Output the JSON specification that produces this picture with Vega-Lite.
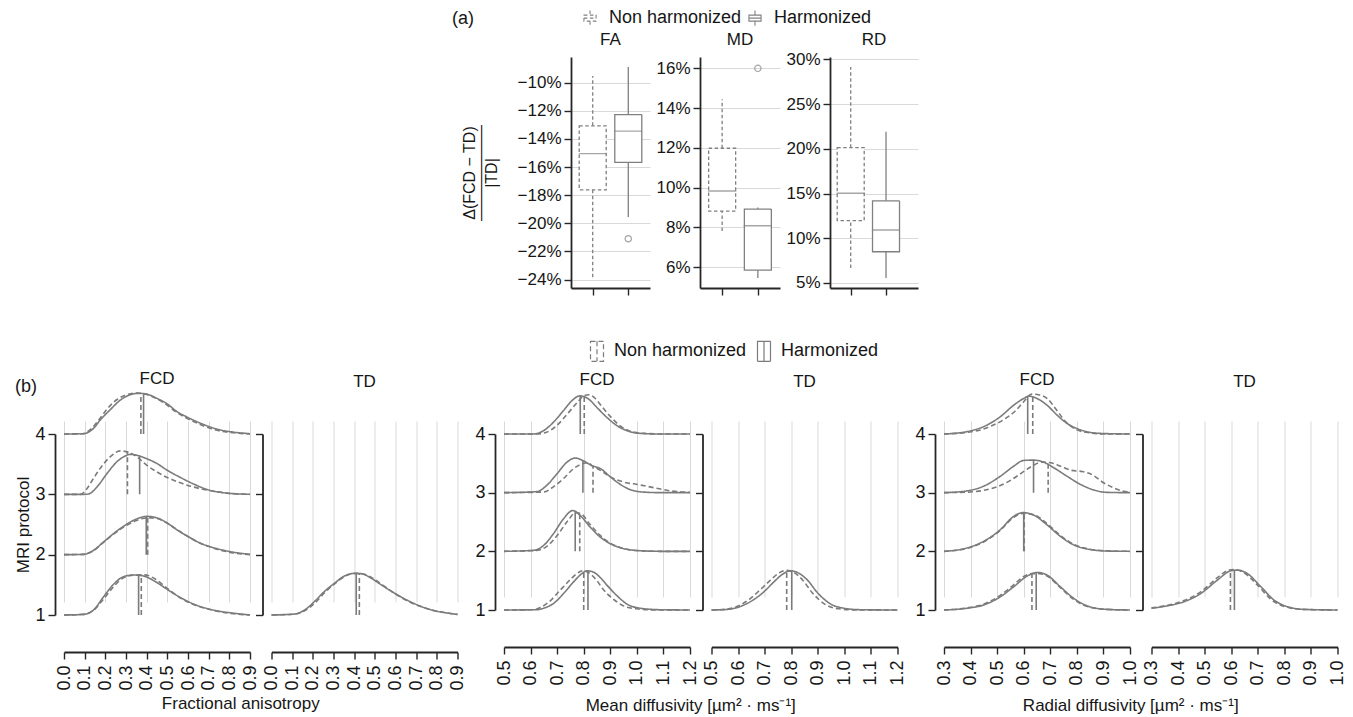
{
  "$schema": "https://vega.github.io/schema/vega-lite/v6.json",
  "padding": {"left": 14, "top": 9, "right": 5, "bottom": 2},
  "config": {
    "font": "Liberation Sans",
    "view": {"stroke": null},
    "axis": {
      "labelFont": "Liberation Sans",
      "titleFont": "Liberation Sans",
      "labelColor": "#161616",
      "titleColor": "#161616",
      "titleFontWeight": "normal",
      "domainColor": "#262626",
      "tickColor": "#262626",
      "domainWidth": 1.8,
      "tickWidth": 1.4,
      "gridColor": "#d9d9d9",
      "gridWidth": 1,
      "labelOverlap": false,
      "tickCount": 20
    },
    "title": {"font": "Liberation Sans", "fontWeight": "normal", "fontSize": 17, "color": "#161616"},
    "legend": {"labelFont": "Liberation Sans", "labelColor": "#161616"}
  },
  "datasets": {
    "box": [
      {"metric": "FA", "g": "N", "lo": -0.2384, "q1": -0.1763, "med": -0.1505, "q3": -0.1307, "hi": -0.0953},
      {"metric": "FA", "g": "H", "lo": -0.1956, "q1": -0.1567, "med": -0.1345, "q3": -0.1227, "hi": -0.0889},
      {"metric": "MD", "g": "N", "lo": 0.0782, "q1": 0.0882, "med": 0.0983, "q3": 0.1198, "hi": 0.1445},
      {"metric": "MD", "g": "H", "lo": 0.0545, "q1": 0.0585, "med": 0.0808, "q3": 0.0892, "hi": 0.0900},
      {"metric": "RD", "g": "N", "lo": 0.0667, "q1": 0.1198, "med": 0.1503, "q3": 0.2012, "hi": 0.2915},
      {"metric": "RD", "g": "H", "lo": 0.0556, "q1": 0.0849, "med": 0.1092, "q3": 0.1418, "hi": 0.2190}
    ],
    "outliers": [
      {"metric": "FA", "g": "H", "v": -0.211},
      {"metric": "MD", "g": "H", "v": 0.160}
    ],
    "faFCD": [
      {"g":"N","r":4,"x":0,"y":4},{"g":"N","r":4,"x":0.09,"y":4.005},{"g":"N","r":4,"x":0.13,"y":4.08},{"g":"N","r":4,"x":0.17,"y":4.24},{"g":"N","r":4,"x":0.21,"y":4.42},{"g":"N","r":4,"x":0.26,"y":4.58},{"g":"N","r":4,"x":0.31,"y":4.66},{"g":"N","r":4,"x":0.35,"y":4.68},{"g":"N","r":4,"x":0.39,"y":4.665},{"g":"N","r":4,"x":0.44,"y":4.6},{"g":"N","r":4,"x":0.49,"y":4.5},{"g":"N","r":4,"x":0.54,"y":4.37},{"g":"N","r":4,"x":0.59,"y":4.27},{"g":"N","r":4,"x":0.65,"y":4.17},{"g":"N","r":4,"x":0.73,"y":4.07},{"g":"N","r":4,"x":0.82,"y":4.02},{"g":"N","r":4,"x":0.9,"y":4.0},
      {"g":"H","r":4,"x":0,"y":4},{"g":"H","r":4,"x":0.094,"y":4.005},{"g":"H","r":4,"x":0.142,"y":4.09},{"g":"H","r":4,"x":0.175,"y":4.23},{"g":"H","r":4,"x":0.223,"y":4.4},{"g":"H","r":4,"x":0.272,"y":4.56},{"g":"H","r":4,"x":0.32,"y":4.65},{"g":"H","r":4,"x":0.361,"y":4.674},{"g":"H","r":4,"x":0.401,"y":4.66},{"g":"H","r":4,"x":0.45,"y":4.59},{"g":"H","r":4,"x":0.499,"y":4.5},{"g":"H","r":4,"x":0.547,"y":4.37},{"g":"H","r":4,"x":0.596,"y":4.28},{"g":"H","r":4,"x":0.66,"y":4.18},{"g":"H","r":4,"x":0.741,"y":4.08},{"g":"H","r":4,"x":0.822,"y":4.03},{"g":"H","r":4,"x":0.9,"y":4.005},
      {"g":"N","r":3,"x":0,"y":3},{"g":"N","r":3,"x":0.08,"y":3.0},{"g":"N","r":3,"x":0.11,"y":3.09},{"g":"N","r":3,"x":0.142,"y":3.26},{"g":"N","r":3,"x":0.175,"y":3.43},{"g":"N","r":3,"x":0.223,"y":3.62},{"g":"N","r":3,"x":0.272,"y":3.72},{"g":"N","r":3,"x":0.312,"y":3.7},{"g":"N","r":3,"x":0.353,"y":3.62},{"g":"N","r":3,"x":0.401,"y":3.48},{"g":"N","r":3,"x":0.45,"y":3.37},{"g":"N","r":3,"x":0.499,"y":3.28},{"g":"N","r":3,"x":0.563,"y":3.19},{"g":"N","r":3,"x":0.628,"y":3.12},{"g":"N","r":3,"x":0.693,"y":3.07},{"g":"N","r":3,"x":0.79,"y":3.02},{"g":"N","r":3,"x":0.9,"y":3.0},
      {"g":"H","r":3,"x":0,"y":3},{"g":"H","r":3,"x":0.094,"y":3.0},{"g":"H","r":3,"x":0.118,"y":3.005},{"g":"H","r":3,"x":0.159,"y":3.12},{"g":"H","r":3,"x":0.207,"y":3.34},{"g":"H","r":3,"x":0.256,"y":3.54},{"g":"H","r":3,"x":0.296,"y":3.635},{"g":"H","r":3,"x":0.32,"y":3.663},{"g":"H","r":3,"x":0.353,"y":3.646},{"g":"H","r":3,"x":0.401,"y":3.59},{"g":"H","r":3,"x":0.45,"y":3.51},{"g":"H","r":3,"x":0.499,"y":3.4},{"g":"H","r":3,"x":0.563,"y":3.28},{"g":"H","r":3,"x":0.628,"y":3.17},{"g":"H","r":3,"x":0.693,"y":3.08},{"g":"H","r":3,"x":0.79,"y":3.02},{"g":"H","r":3,"x":0.9,"y":3.0},
      {"g":"N","r":2,"x":0,"y":2},{"g":"N","r":2,"x":0.09,"y":2.005},{"g":"N","r":2,"x":0.14,"y":2.06},{"g":"N","r":2,"x":0.19,"y":2.2},{"g":"N","r":2,"x":0.24,"y":2.34},{"g":"N","r":2,"x":0.29,"y":2.46},{"g":"N","r":2,"x":0.34,"y":2.55},{"g":"N","r":2,"x":0.38,"y":2.6},{"g":"N","r":2,"x":0.42,"y":2.61},{"g":"N","r":2,"x":0.46,"y":2.59},{"g":"N","r":2,"x":0.5,"y":2.52},{"g":"N","r":2,"x":0.55,"y":2.41},{"g":"N","r":2,"x":0.6,"y":2.3},{"g":"N","r":2,"x":0.66,"y":2.19},{"g":"N","r":2,"x":0.74,"y":2.09},{"g":"N","r":2,"x":0.82,"y":2.03},{"g":"N","r":2,"x":0.9,"y":2.0},
      {"g":"H","r":2,"x":0,"y":2},{"g":"H","r":2,"x":0.094,"y":2.005},{"g":"H","r":2,"x":0.142,"y":2.07},{"g":"H","r":2,"x":0.191,"y":2.21},{"g":"H","r":2,"x":0.24,"y":2.35},{"g":"H","r":2,"x":0.288,"y":2.47},{"g":"H","r":2,"x":0.337,"y":2.57},{"g":"H","r":2,"x":0.401,"y":2.635},{"g":"H","r":2,"x":0.45,"y":2.61},{"g":"H","r":2,"x":0.499,"y":2.525},{"g":"H","r":2,"x":0.547,"y":2.41},{"g":"H","r":2,"x":0.596,"y":2.31},{"g":"H","r":2,"x":0.66,"y":2.19},{"g":"H","r":2,"x":0.741,"y":2.1},{"g":"H","r":2,"x":0.822,"y":2.04},{"g":"H","r":2,"x":0.9,"y":2.005},
      {"g":"N","r":1,"x":0,"y":1},{"g":"N","r":1,"x":0.09,"y":1.01},{"g":"N","r":1,"x":0.14,"y":1.07},{"g":"N","r":1,"x":0.19,"y":1.26},{"g":"N","r":1,"x":0.24,"y":1.47},{"g":"N","r":1,"x":0.29,"y":1.62},{"g":"N","r":1,"x":0.34,"y":1.66},{"g":"N","r":1,"x":0.39,"y":1.665},{"g":"N","r":1,"x":0.44,"y":1.6},{"g":"N","r":1,"x":0.5,"y":1.44},{"g":"N","r":1,"x":0.56,"y":1.29},{"g":"N","r":1,"x":0.63,"y":1.17},{"g":"N","r":1,"x":0.72,"y":1.08},{"g":"N","r":1,"x":0.82,"y":1.02},{"g":"N","r":1,"x":0.9,"y":1.0},
      {"g":"H","r":1,"x":0,"y":1},{"g":"H","r":1,"x":0.094,"y":1.01},{"g":"H","r":1,"x":0.142,"y":1.08},{"g":"H","r":1,"x":0.191,"y":1.3},{"g":"H","r":1,"x":0.24,"y":1.51},{"g":"H","r":1,"x":0.288,"y":1.635},{"g":"H","r":1,"x":0.337,"y":1.663},{"g":"H","r":1,"x":0.385,"y":1.646},{"g":"H","r":1,"x":0.434,"y":1.57},{"g":"H","r":1,"x":0.499,"y":1.425},{"g":"H","r":1,"x":0.563,"y":1.29},{"g":"H","r":1,"x":0.628,"y":1.18},{"g":"H","r":1,"x":0.725,"y":1.08},{"g":"H","r":1,"x":0.822,"y":1.03},{"g":"H","r":1,"x":0.9,"y":1.0}
    ],
    "faTD": [
      {"g":"N","r":1,"x":0,"y":1},{"g":"N","r":1,"x":0.11,"y":1.015},{"g":"N","r":1,"x":0.16,"y":1.07},{"g":"N","r":1,"x":0.21,"y":1.2},{"g":"N","r":1,"x":0.26,"y":1.38},{"g":"N","r":1,"x":0.31,"y":1.53},{"g":"N","r":1,"x":0.36,"y":1.65},{"g":"N","r":1,"x":0.41,"y":1.69},{"g":"N","r":1,"x":0.44,"y":1.685},{"g":"N","r":1,"x":0.49,"y":1.61},{"g":"N","r":1,"x":0.54,"y":1.49},{"g":"N","r":1,"x":0.6,"y":1.35},{"g":"N","r":1,"x":0.66,"y":1.23},{"g":"N","r":1,"x":0.73,"y":1.13},{"g":"N","r":1,"x":0.79,"y":1.07},{"g":"N","r":1,"x":0.86,"y":1.03},{"g":"N","r":1,"x":0.9,"y":1.01},
      {"g":"H","r":1,"x":0,"y":1},{"g":"H","r":1,"x":0.11,"y":1.015},{"g":"H","r":1,"x":0.159,"y":1.08},{"g":"H","r":1,"x":0.207,"y":1.22},{"g":"H","r":1,"x":0.256,"y":1.39},{"g":"H","r":1,"x":0.304,"y":1.525},{"g":"H","r":1,"x":0.353,"y":1.646},{"g":"H","r":1,"x":0.401,"y":1.69},{"g":"H","r":1,"x":0.434,"y":1.685},{"g":"H","r":1,"x":0.482,"y":1.61},{"g":"H","r":1,"x":0.531,"y":1.5},{"g":"H","r":1,"x":0.596,"y":1.36},{"g":"H","r":1,"x":0.66,"y":1.24},{"g":"H","r":1,"x":0.725,"y":1.14},{"g":"H","r":1,"x":0.79,"y":1.07},{"g":"H","r":1,"x":0.855,"y":1.03},{"g":"H","r":1,"x":0.9,"y":1.01}
    ],
    "mdFCD": [
      {"g":"N","r":4,"x":0.5,"y":4},{"g":"N","r":4,"x":0.62,"y":4.0},{"g":"N","r":4,"x":0.66,"y":4.03},{"g":"N","r":4,"x":0.7,"y":4.15},{"g":"N","r":4,"x":0.74,"y":4.35},{"g":"N","r":4,"x":0.78,"y":4.56},{"g":"N","r":4,"x":0.8,"y":4.65},{"g":"N","r":4,"x":0.82,"y":4.67},{"g":"N","r":4,"x":0.84,"y":4.62},{"g":"N","r":4,"x":0.87,"y":4.46},{"g":"N","r":4,"x":0.9,"y":4.3},{"g":"N","r":4,"x":0.94,"y":4.13},{"g":"N","r":4,"x":0.98,"y":4.04},{"g":"N","r":4,"x":1.03,"y":4.01},{"g":"N","r":4,"x":1.1,"y":4.0},{"g":"N","r":4,"x":1.2,"y":4.0},
      {"g":"H","r":4,"x":0.5,"y":4},{"g":"H","r":4,"x":0.611,"y":4.0},{"g":"H","r":4,"x":0.649,"y":4.057},{"g":"H","r":4,"x":0.686,"y":4.2},{"g":"H","r":4,"x":0.724,"y":4.4},{"g":"H","r":4,"x":0.756,"y":4.57},{"g":"H","r":4,"x":0.785,"y":4.65},{"g":"H","r":4,"x":0.819,"y":4.594},{"g":"H","r":4,"x":0.85,"y":4.45},{"g":"H","r":4,"x":0.888,"y":4.28},{"g":"H","r":4,"x":0.926,"y":4.14},{"g":"H","r":4,"x":0.963,"y":4.057},{"g":"H","r":4,"x":1.014,"y":4.01},{"g":"H","r":4,"x":1.089,"y":4.0},{"g":"H","r":4,"x":1.2,"y":4.0},
      {"g":"N","r":3,"x":0.5,"y":3},{"g":"N","r":3,"x":0.649,"y":3.01},{"g":"N","r":3,"x":0.686,"y":3.1},{"g":"N","r":3,"x":0.724,"y":3.24},{"g":"N","r":3,"x":0.762,"y":3.41},{"g":"N","r":3,"x":0.8,"y":3.5},{"g":"N","r":3,"x":0.815,"y":3.51},{"g":"N","r":3,"x":0.835,"y":3.45},{"g":"N","r":3,"x":0.863,"y":3.38},{"g":"N","r":3,"x":0.9,"y":3.27},{"g":"N","r":3,"x":0.951,"y":3.18},{"g":"N","r":3,"x":1.001,"y":3.14},{"g":"N","r":3,"x":1.064,"y":3.085},{"g":"N","r":3,"x":1.127,"y":3.03},{"g":"N","r":3,"x":1.2,"y":3.005},
      {"g":"H","r":3,"x":0.5,"y":3},{"g":"H","r":3,"x":0.623,"y":3.017},{"g":"H","r":3,"x":0.661,"y":3.125},{"g":"H","r":3,"x":0.699,"y":3.32},{"g":"H","r":3,"x":0.737,"y":3.52},{"g":"H","r":3,"x":0.768,"y":3.59},{"g":"H","r":3,"x":0.8,"y":3.54},{"g":"H","r":3,"x":0.831,"y":3.46},{"g":"H","r":3,"x":0.863,"y":3.41},{"g":"H","r":3,"x":0.9,"y":3.27},{"g":"H","r":3,"x":0.938,"y":3.14},{"g":"H","r":3,"x":0.976,"y":3.05},{"g":"H","r":3,"x":1.026,"y":3.01},{"g":"H","r":3,"x":1.09,"y":3.0},{"g":"H","r":3,"x":1.2,"y":3.0},
      {"g":"N","r":2,"x":0.5,"y":2},{"g":"N","r":2,"x":0.62,"y":2.015},{"g":"N","r":2,"x":0.66,"y":2.08},{"g":"N","r":2,"x":0.7,"y":2.27},{"g":"N","r":2,"x":0.74,"y":2.52},{"g":"N","r":2,"x":0.77,"y":2.66},{"g":"N","r":2,"x":0.79,"y":2.64},{"g":"N","r":2,"x":0.82,"y":2.48},{"g":"N","r":2,"x":0.86,"y":2.28},{"g":"N","r":2,"x":0.9,"y":2.14},{"g":"N","r":2,"x":0.95,"y":2.05},{"g":"N","r":2,"x":1.01,"y":2.01},{"g":"N","r":2,"x":1.1,"y":2.0},{"g":"N","r":2,"x":1.2,"y":2.0},
      {"g":"H","r":2,"x":0.5,"y":2},{"g":"H","r":2,"x":0.611,"y":2.017},{"g":"H","r":2,"x":0.649,"y":2.1},{"g":"H","r":2,"x":0.686,"y":2.3},{"g":"H","r":2,"x":0.724,"y":2.555},{"g":"H","r":2,"x":0.759,"y":2.696},{"g":"H","r":2,"x":0.787,"y":2.61},{"g":"H","r":2,"x":0.825,"y":2.41},{"g":"H","r":2,"x":0.863,"y":2.24},{"g":"H","r":2,"x":0.9,"y":2.13},{"g":"H","r":2,"x":0.951,"y":2.045},{"g":"H","r":2,"x":1.014,"y":2.01},{"g":"H","r":2,"x":1.09,"y":2.0},{"g":"H","r":2,"x":1.2,"y":2.0},
      {"g":"N","r":1,"x":0.5,"y":1},{"g":"N","r":1,"x":0.61,"y":1.005},{"g":"N","r":1,"x":0.635,"y":1.04},{"g":"N","r":1,"x":0.67,"y":1.14},{"g":"N","r":1,"x":0.71,"y":1.33},{"g":"N","r":1,"x":0.75,"y":1.52},{"g":"N","r":1,"x":0.78,"y":1.64},{"g":"N","r":1,"x":0.8,"y":1.67},{"g":"N","r":1,"x":0.82,"y":1.63},{"g":"N","r":1,"x":0.85,"y":1.5},{"g":"N","r":1,"x":0.87,"y":1.37},{"g":"N","r":1,"x":0.91,"y":1.19},{"g":"N","r":1,"x":0.95,"y":1.07},{"g":"N","r":1,"x":1.0,"y":1.02},{"g":"N","r":1,"x":1.07,"y":1.0},{"g":"N","r":1,"x":1.2,"y":1.0},
      {"g":"H","r":1,"x":0.5,"y":1},{"g":"H","r":1,"x":0.623,"y":1.005},{"g":"H","r":1,"x":0.649,"y":1.03},{"g":"H","r":1,"x":0.686,"y":1.11},{"g":"H","r":1,"x":0.724,"y":1.28},{"g":"H","r":1,"x":0.762,"y":1.48},{"g":"H","r":1,"x":0.793,"y":1.62},{"g":"H","r":1,"x":0.812,"y":1.668},{"g":"H","r":1,"x":0.837,"y":1.645},{"g":"H","r":1,"x":0.863,"y":1.55},{"g":"H","r":1,"x":0.888,"y":1.42},{"g":"H","r":1,"x":0.926,"y":1.24},{"g":"H","r":1,"x":0.963,"y":1.1},{"g":"H","r":1,"x":1.014,"y":1.03},{"g":"H","r":1,"x":1.089,"y":1.005},{"g":"H","r":1,"x":1.2,"y":1.0}
    ],
    "mdTD": [
      {"g":"N","r":1,"x":0.5,"y":1},{"g":"N","r":1,"x":0.56,"y":1.015},{"g":"N","r":1,"x":0.61,"y":1.09},{"g":"N","r":1,"x":0.645,"y":1.19},{"g":"N","r":1,"x":0.68,"y":1.33},{"g":"N","r":1,"x":0.72,"y":1.5},{"g":"N","r":1,"x":0.75,"y":1.62},{"g":"N","r":1,"x":0.78,"y":1.675},{"g":"N","r":1,"x":0.81,"y":1.64},{"g":"N","r":1,"x":0.845,"y":1.5},{"g":"N","r":1,"x":0.88,"y":1.29},{"g":"N","r":1,"x":0.93,"y":1.09},{"g":"N","r":1,"x":0.98,"y":1.02},{"g":"N","r":1,"x":1.05,"y":1.0},{"g":"N","r":1,"x":1.2,"y":1.0},
      {"g":"H","r":1,"x":0.5,"y":1},{"g":"H","r":1,"x":0.559,"y":1.01},{"g":"H","r":1,"x":0.622,"y":1.085},{"g":"H","r":1,"x":0.66,"y":1.18},{"g":"H","r":1,"x":0.697,"y":1.31},{"g":"H","r":1,"x":0.735,"y":1.48},{"g":"H","r":1,"x":0.766,"y":1.605},{"g":"H","r":1,"x":0.798,"y":1.668},{"g":"H","r":1,"x":0.823,"y":1.64},{"g":"H","r":1,"x":0.861,"y":1.51},{"g":"H","r":1,"x":0.898,"y":1.3},{"g":"H","r":1,"x":0.949,"y":1.1},{"g":"H","r":1,"x":0.999,"y":1.03},{"g":"H","r":1,"x":1.062,"y":1.005},{"g":"H","r":1,"x":1.2,"y":1.0}
    ],
    "rdFCD": [
      {"g":"N","r":4,"x":0.3,"y":4},{"g":"N","r":4,"x":0.39,"y":4.03},{"g":"N","r":4,"x":0.43,"y":4.06},{"g":"N","r":4,"x":0.48,"y":4.14},{"g":"N","r":4,"x":0.53,"y":4.26},{"g":"N","r":4,"x":0.57,"y":4.4},{"g":"N","r":4,"x":0.6,"y":4.55},{"g":"N","r":4,"x":0.63,"y":4.68},{"g":"N","r":4,"x":0.66,"y":4.665},{"g":"N","r":4,"x":0.69,"y":4.6},{"g":"N","r":4,"x":0.72,"y":4.43},{"g":"N","r":4,"x":0.76,"y":4.2},{"g":"N","r":4,"x":0.8,"y":4.07},{"g":"N","r":4,"x":0.85,"y":4.02},{"g":"N","r":4,"x":0.9,"y":4.0},{"g":"N","r":4,"x":1.0,"y":4.0},
      {"g":"H","r":4,"x":0.3,"y":4},{"g":"H","r":4,"x":0.386,"y":4.04},{"g":"H","r":4,"x":0.449,"y":4.125},{"g":"H","r":4,"x":0.512,"y":4.295},{"g":"H","r":4,"x":0.562,"y":4.49},{"g":"H","r":4,"x":0.6,"y":4.605},{"g":"H","r":4,"x":0.619,"y":4.645},{"g":"H","r":4,"x":0.65,"y":4.605},{"g":"H","r":4,"x":0.688,"y":4.49},{"g":"H","r":4,"x":0.726,"y":4.32},{"g":"H","r":4,"x":0.763,"y":4.18},{"g":"H","r":4,"x":0.814,"y":4.07},{"g":"H","r":4,"x":0.889,"y":4.01},{"g":"H","r":4,"x":1.0,"y":4.0},
      {"g":"N","r":3,"x":0.3,"y":3},{"g":"N","r":3,"x":0.39,"y":3.01},{"g":"N","r":3,"x":0.45,"y":3.04},{"g":"N","r":3,"x":0.5,"y":3.1},{"g":"N","r":3,"x":0.55,"y":3.21},{"g":"N","r":3,"x":0.59,"y":3.33},{"g":"N","r":3,"x":0.63,"y":3.45},{"g":"N","r":3,"x":0.67,"y":3.52},{"g":"N","r":3,"x":0.7,"y":3.51},{"g":"N","r":3,"x":0.74,"y":3.45},{"g":"N","r":3,"x":0.78,"y":3.38},{"g":"N","r":3,"x":0.82,"y":3.36},{"g":"N","r":3,"x":0.86,"y":3.3},{"g":"N","r":3,"x":0.9,"y":3.17},{"g":"N","r":3,"x":0.94,"y":3.08},{"g":"N","r":3,"x":0.97,"y":3.03},{"g":"N","r":3,"x":1.0,"y":3.01},
      {"g":"H","r":3,"x":0.3,"y":3},{"g":"H","r":3,"x":0.386,"y":3.03},{"g":"H","r":3,"x":0.449,"y":3.11},{"g":"H","r":3,"x":0.512,"y":3.28},{"g":"H","r":3,"x":0.562,"y":3.45},{"g":"H","r":3,"x":0.6,"y":3.55},{"g":"H","r":3,"x":0.637,"y":3.555},{"g":"H","r":3,"x":0.675,"y":3.52},{"g":"H","r":3,"x":0.713,"y":3.425},{"g":"H","r":3,"x":0.763,"y":3.28},{"g":"H","r":3,"x":0.814,"y":3.14},{"g":"H","r":3,"x":0.864,"y":3.045},{"g":"H","r":3,"x":0.914,"y":3.005},{"g":"H","r":3,"x":1.0,"y":3.0},
      {"g":"N","r":2,"x":0.3,"y":2},{"g":"N","r":2,"x":0.386,"y":2.05},{"g":"N","r":2,"x":0.449,"y":2.16},{"g":"N","r":2,"x":0.512,"y":2.36},{"g":"N","r":2,"x":0.562,"y":2.58},{"g":"N","r":2,"x":0.597,"y":2.645},{"g":"N","r":2,"x":0.637,"y":2.625},{"g":"N","r":2,"x":0.688,"y":2.47},{"g":"N","r":2,"x":0.738,"y":2.27},{"g":"N","r":2,"x":0.788,"y":2.12},{"g":"N","r":2,"x":0.839,"y":2.045},{"g":"N","r":2,"x":0.914,"y":2.008},{"g":"N","r":2,"x":1.0,"y":2.0},
      {"g":"H","r":2,"x":0.3,"y":2},{"g":"H","r":2,"x":0.386,"y":2.057},{"g":"H","r":2,"x":0.449,"y":2.17},{"g":"H","r":2,"x":0.512,"y":2.37},{"g":"H","r":2,"x":0.562,"y":2.595},{"g":"H","r":2,"x":0.597,"y":2.66},{"g":"H","r":2,"x":0.637,"y":2.62},{"g":"H","r":2,"x":0.688,"y":2.45},{"g":"H","r":2,"x":0.738,"y":2.255},{"g":"H","r":2,"x":0.788,"y":2.11},{"g":"H","r":2,"x":0.839,"y":2.04},{"g":"H","r":2,"x":0.914,"y":2.005},{"g":"H","r":2,"x":1.0,"y":2.0},
      {"g":"N","r":1,"x":0.3,"y":1},{"g":"N","r":1,"x":0.386,"y":1.035},{"g":"N","r":1,"x":0.449,"y":1.1},{"g":"N","r":1,"x":0.512,"y":1.25},{"g":"N","r":1,"x":0.562,"y":1.43},{"g":"N","r":1,"x":0.6,"y":1.57},{"g":"N","r":1,"x":0.63,"y":1.62},{"g":"N","r":1,"x":0.66,"y":1.62},{"g":"N","r":1,"x":0.69,"y":1.575},{"g":"N","r":1,"x":0.738,"y":1.38},{"g":"N","r":1,"x":0.788,"y":1.18},{"g":"N","r":1,"x":0.839,"y":1.06},{"g":"N","r":1,"x":0.914,"y":1.01},{"g":"N","r":1,"x":1.0,"y":1.0},
      {"g":"H","r":1,"x":0.3,"y":1},{"g":"H","r":1,"x":0.386,"y":1.03},{"g":"H","r":1,"x":0.449,"y":1.085},{"g":"H","r":1,"x":0.512,"y":1.225},{"g":"H","r":1,"x":0.562,"y":1.395},{"g":"H","r":1,"x":0.612,"y":1.575},{"g":"H","r":1,"x":0.65,"y":1.64},{"g":"H","r":1,"x":0.688,"y":1.595},{"g":"H","r":1,"x":0.738,"y":1.395},{"g":"H","r":1,"x":0.788,"y":1.2},{"g":"H","r":1,"x":0.839,"y":1.07},{"g":"H","r":1,"x":0.914,"y":1.01},{"g":"H","r":1,"x":1.0,"y":1.0}
    ],
    "rdTD": [
      {"g":"N","r":1,"x":0.3,"y":1.035},{"g":"N","r":1,"x":0.359,"y":1.08},{"g":"N","r":1,"x":0.422,"y":1.16},{"g":"N","r":1,"x":0.485,"y":1.31},{"g":"N","r":1,"x":0.548,"y":1.55},{"g":"N","r":1,"x":0.59,"y":1.68},{"g":"N","r":1,"x":0.61,"y":1.69},{"g":"N","r":1,"x":0.65,"y":1.63},{"g":"N","r":1,"x":0.7,"y":1.42},{"g":"N","r":1,"x":0.75,"y":1.18},{"g":"N","r":1,"x":0.8,"y":1.06},{"g":"N","r":1,"x":0.87,"y":1.01},{"g":"N","r":1,"x":1.0,"y":1.0},
      {"g":"H","r":1,"x":0.3,"y":1.03},{"g":"H","r":1,"x":0.359,"y":1.07},{"g":"H","r":1,"x":0.422,"y":1.14},{"g":"H","r":1,"x":0.485,"y":1.28},{"g":"H","r":1,"x":0.548,"y":1.51},{"g":"H","r":1,"x":0.598,"y":1.668},{"g":"H","r":1,"x":0.623,"y":1.68},{"g":"H","r":1,"x":0.661,"y":1.62},{"g":"H","r":1,"x":0.711,"y":1.4},{"g":"H","r":1,"x":0.761,"y":1.17},{"g":"H","r":1,"x":0.811,"y":1.057},{"g":"H","r":1,"x":0.874,"y":1.01},{"g":"H","r":1,"x":1.0,"y":1.0}
    ],
    "means": [
      {"m":"FA","p":"FCD","g":"N","r":4,"x":0.372,"top":4.67},{"m":"FA","p":"FCD","g":"H","r":4,"x":0.385,"top":4.66},
      {"m":"FA","p":"FCD","g":"N","r":3,"x":0.307,"top":3.7},{"m":"FA","p":"FCD","g":"H","r":3,"x":0.366,"top":3.645},
      {"m":"FA","p":"FCD","g":"N","r":2,"x":0.405,"top":2.61},{"m":"FA","p":"FCD","g":"H","r":2,"x":0.398,"top":2.633},
      {"m":"FA","p":"FCD","g":"N","r":1,"x":0.374,"top":1.667},{"m":"FA","p":"FCD","g":"H","r":1,"x":0.361,"top":1.66},
      {"m":"FA","p":"TD","g":"N","r":1,"x":0.425,"top":1.687},{"m":"FA","p":"TD","g":"H","r":1,"x":0.41,"top":1.69},
      {"m":"MD","p":"FCD","g":"N","r":4,"x":0.802,"top":4.66},{"m":"MD","p":"FCD","g":"H","r":4,"x":0.787,"top":4.65},
      {"m":"MD","p":"FCD","g":"N","r":3,"x":0.835,"top":3.45},{"m":"MD","p":"FCD","g":"H","r":3,"x":0.797,"top":3.54},
      {"m":"MD","p":"FCD","g":"N","r":2,"x":0.785,"top":2.645},{"m":"MD","p":"FCD","g":"H","r":2,"x":0.768,"top":2.68},
      {"m":"MD","p":"FCD","g":"N","r":1,"x":0.8,"top":1.67},{"m":"MD","p":"FCD","g":"H","r":1,"x":0.816,"top":1.665},
      {"m":"MD","p":"TD","g":"N","r":1,"x":0.783,"top":1.675},{"m":"MD","p":"TD","g":"H","r":1,"x":0.802,"top":1.665},
      {"m":"RD","p":"FCD","g":"N","r":4,"x":0.634,"top":4.68},{"m":"RD","p":"FCD","g":"H","r":4,"x":0.615,"top":4.64},
      {"m":"RD","p":"FCD","g":"N","r":3,"x":0.692,"top":3.51},{"m":"RD","p":"FCD","g":"H","r":3,"x":0.637,"top":3.555},
      {"m":"RD","p":"FCD","g":"N","r":2,"x":0.602,"top":2.645},{"m":"RD","p":"FCD","g":"H","r":2,"x":0.6,"top":2.66},
      {"m":"RD","p":"FCD","g":"N","r":1,"x":0.631,"top":1.62},{"m":"RD","p":"FCD","g":"H","r":1,"x":0.647,"top":1.64},
      {"m":"RD","p":"TD","g":"N","r":1,"x":0.597,"top":1.685},{"m":"RD","p":"TD","g":"H","r":1,"x":0.612,"top":1.68}
    ]
  },
  "resolve": {"scale": {"strokeDash": "independent"}, "legend": {"strokeDash": "independent"}},
  "spacing": 44,
  "vconcat": [
    {
      "bounds": "flush",
      "spacing": 50,
      "hconcat": [
        {
          "width": 457, "height": 231,
          "title": {"text": "(a)", "anchor": "end", "dx": -47, "offset": 29, "fontSize": 18},
          "data": {"values": []},
          "mark": {"type": "point", "opacity": 0}
        },
        {
          "width": 79, "height": 231,
          "title": {"text": "FA", "offset": 8},
          "data": {"name": "box"},
          "transform": [{"filter": "datum.metric === 'FA'"}],
          "encoding": {
            "x": {"field": "g", "type": "nominal", "scale": {"type": "point", "domain": ["N", "H"], "padding": 0.61},
                  "axis": {"labels": false, "title": null, "tickSize": 7, "grid": false}}
          },
          "layer": [
            {"mark": {"type": "rule", "color": "#808080", "strokeWidth": 1.3},
             "encoding": {
               "y": {"field": "lo", "type": "quantitative", "scale": {"domain": [-0.246, -0.0818], "nice": false, "zero": false},
                     "axis": {"values": [-0.24, -0.22, -0.2, -0.18, -0.16, -0.14, -0.12, -0.1], "tickCount": 20, "format": ".0%", "grid": true, "tickSize": 7,
                              "labelFontSize": 17, "labelPadding": 3, "labelOverlap": false,
                              "title": ["Δ(FCD − TD)", "——————", "|TD|"], "titleFontSize": 16, "titleLineHeight": 11, "titlePadding": 18}},
               "y2": {"field": "q1"},
               "strokeDash": {"field": "g", "type": "nominal", "scale": {"domain": ["N", "H"], "range": [[3.5, 2.5], [1, 0]]},
                              "legend": {"orient": "none", "legendX": 517, "legendY": -48, "direction": "horizontal", "title": null,
                                         "symbolType": "M-0.8,-0.4H0.8V0.4H-0.8ZM-0.8,0H0.8M0,-1V-0.4M0,0.4V1", "symbolSize": 230,
                                         "symbolStrokeColor": "#808080", "symbolFillColor": "transparent", "symbolStrokeWidth": 1.1,
                                         "labelFontSize": 18, "labelOffset": 10, "columnPadding": 4,
                                         "labelExpr": "datum.label === 'N' ? 'Non harmonized' : 'Harmonized'"}}
             }},
            {"mark": {"type": "rule", "color": "#808080", "strokeWidth": 1.3},
             "encoding": {"y": {"field": "q3", "type": "quantitative"}, "y2": {"field": "hi"}, "strokeDash": {"field": "g", "type": "nominal"}}},
            {"mark": {"type": "bar", "width": 27, "fill": "white", "stroke": "#808080", "strokeWidth": 1.3},
             "encoding": {"y": {"field": "q1", "type": "quantitative"}, "y2": {"field": "q3"}, "strokeDash": {"field": "g", "type": "nominal"}}},
            {"mark": {"type": "tick", "size": 27, "thickness": 0.01, "filled": false, "stroke": "#808080", "strokeWidth": 1.3},
             "encoding": {"y": {"field": "med", "type": "quantitative"}, "strokeDash": {"field": "g", "type": "nominal"}}},
            {"data": {"name": "outliers"}, "transform": [{"filter": "datum.metric === 'FA'"}],
             "mark": {"type": "point", "filled": false, "size": 40, "color": "#808080", "strokeWidth": 1.2},
             "encoding": {"y": {"field": "v", "type": "quantitative"}}}
          ]
        },
        {
          "width": 80, "height": 231,
          "title": {"text": "MD", "offset": 8},
          "data": {"name": "box"},
          "transform": [{"filter": "datum.metric === 'MD'"}],
          "encoding": {
            "x": {"field": "g", "type": "nominal", "scale": {"type": "point", "domain": ["N", "H"], "padding": 0.62},
                  "axis": {"labels": false, "title": null, "tickSize": 7, "grid": false}}
          },
          "layer": [
            {"mark": {"type": "rule", "color": "#808080", "strokeWidth": 1.3},
             "encoding": {
               "y": {"field": "lo", "type": "quantitative", "scale": {"domain": [0.0495, 0.1657], "nice": false, "zero": false},
                     "axis": {"values": [0.06, 0.08, 0.1, 0.12, 0.14, 0.16], "tickCount": 20, "format": ".0%", "grid": true, "tickSize": 7,
                              "labelFontSize": 17, "labelPadding": 3, "labelOverlap": false, "title": null}},
               "y2": {"field": "q1"},
               "strokeDash": {"field": "g", "type": "nominal"}
             }},
            {"mark": {"type": "rule", "color": "#808080", "strokeWidth": 1.3},
             "encoding": {"y": {"field": "q3", "type": "quantitative"}, "y2": {"field": "hi"}, "strokeDash": {"field": "g", "type": "nominal"}}},
            {"mark": {"type": "bar", "width": 27, "fill": "white", "stroke": "#808080", "strokeWidth": 1.3},
             "encoding": {"y": {"field": "q1", "type": "quantitative"}, "y2": {"field": "q3"}, "strokeDash": {"field": "g", "type": "nominal"}}},
            {"mark": {"type": "tick", "size": 27, "thickness": 0.01, "filled": false, "stroke": "#808080", "strokeWidth": 1.3},
             "encoding": {"y": {"field": "med", "type": "quantitative"}, "strokeDash": {"field": "g", "type": "nominal"}}},
            {"data": {"name": "outliers"}, "transform": [{"filter": "datum.metric === 'MD'"}],
             "mark": {"type": "point", "filled": false, "size": 40, "color": "#808080", "strokeWidth": 1.2},
             "encoding": {"y": {"field": "v", "type": "quantitative"}}}
          ]
        },
        {
          "width": 88, "height": 231,
          "title": {"text": "RD", "offset": 1},
          "data": {"name": "box"},
          "transform": [{"filter": "datum.metric === 'RD'"}],
          "encoding": {
            "x": {"field": "g", "type": "nominal", "scale": {"type": "point", "domain": ["N", "H"], "padding": 0.746, "align": 0.393},
                  "axis": {"labels": false, "title": null, "tickSize": 7, "grid": false}}
          },
          "layer": [
            {"mark": {"type": "rule", "color": "#808080", "strokeWidth": 1.3},
             "encoding": {
               "y": {"field": "lo", "type": "quantitative", "scale": {"domain": [0.0444, 0.3026], "nice": false, "zero": false},
                     "axis": {"values": [0.05, 0.1, 0.15, 0.2, 0.25, 0.3], "tickCount": 20, "format": ".0%", "grid": true, "tickSize": 7,
                              "labelFontSize": 17, "labelPadding": 3, "labelOverlap": false, "title": null}},
               "y2": {"field": "q1"},
               "strokeDash": {"field": "g", "type": "nominal"}
             }},
            {"mark": {"type": "rule", "color": "#808080", "strokeWidth": 1.3},
             "encoding": {"y": {"field": "q3", "type": "quantitative"}, "y2": {"field": "hi"}, "strokeDash": {"field": "g", "type": "nominal"}}},
            {"mark": {"type": "bar", "width": 27, "fill": "white", "stroke": "#808080", "strokeWidth": 1.3},
             "encoding": {"y": {"field": "q1", "type": "quantitative"}, "y2": {"field": "q3"}, "strokeDash": {"field": "g", "type": "nominal"}}},
            {"mark": {"type": "tick", "size": 27, "thickness": 0.01, "filled": false, "stroke": "#808080", "strokeWidth": 1.3},
             "encoding": {"y": {"field": "med", "type": "quantitative"}, "strokeDash": {"field": "g", "type": "nominal"}}}
          ]
        }
      ]
    },
    {
      "spacing": 7,
      "title": {"text": "(b)", "anchor": "start", "fontSize": 18, "offset": 0, "dy": 56},
      "hconcat": [
        {
          "bounds": "flush",
          "spacing": 21.5,
          "title": {"text": "Fractional anisotropy", "orient": "bottom", "anchor": "middle", "offset": 6, "fontSize": 17},
          "hconcat": [
            {
              "width": 186, "height": 250,
              "title": {"text": "FCD", "offset": 2},
              "layer": [
                {"data": {"name": "faFCD"},
                 "mark": {"type": "line", "interpolate": "monotone", "color": "#7b7b7b", "strokeWidth": 1.6},
                 "encoding": {
                   "x": {"field": "x", "type": "quantitative", "scale": {"domain": [0, 0.9], "nice": false, "zero": false},
                         "axis": {"values": [0, 0.1, 0.2, 0.3, 0.4, 0.5, 0.6, 0.7, 0.8, 0.9], "tickCount": 20, "format": ".1f", "labelAngle": 270, "offset": 9, "tickSize": 7, "grid": true, "title": null, "labelFontSize": 18, "labelPadding": 6, "labelOverlap": false}},
                   "y": {"field": "y", "type": "quantitative", "scale": {"domain": [1, 4], "range": [222, 41], "nice": false, "zero": false},
                         "axis": {"values": [1, 2, 3, 4], "tickCount": 20, "format": "d", "offset": 9, "tickSize": 7, "grid": false, "labelFontSize": 18, "labelPadding": 3, "labelOverlap": false, "title": "MRI protocol", "titleFontSize": 17, "titlePadding": 2}},
                   "detail": {"field": "r", "type": "nominal"},
                   "strokeDash": {"field": "g", "type": "nominal", "scale": {"domain": ["N", "H"], "range": [[5, 3], [1, 0]]},
                                  "legend": {"orient": "none", "legendX": 522, "legendY": -53, "direction": "horizontal", "title": null,
                                             "symbolType": "M-0.65,-1H0.65V1H-0.65ZM0,-1V1", "symbolSize": 400,
                                             "symbolStrokeColor": "#808080", "symbolFillColor": "transparent", "symbolStrokeWidth": 1.2,
                                             "labelFontSize": 18, "labelOffset": 6, "columnPadding": 6,
                                             "labelExpr": "datum.label === 'N' ? 'Non harmonized' : 'Harmonized'"}}
                 }},
                {"data": {"name": "means"}, "transform": [{"filter": "datum.m === 'FA' && datum.p === 'FCD'"}],
                 "mark": {"type": "rule", "color": "#7b7b7b", "strokeWidth": 1.6},
                 "encoding": {"x": {"field": "x", "type": "quantitative"}, "y": {"field": "r", "type": "quantitative"}, "y2": {"field": "top"}, "strokeDash": {"field": "g", "type": "nominal"}}}
              ]
            },
            {
              "width": 186, "height": 250,
              "title": {"text": "TD", "offset": 2},
              "layer": [
                {"data": {"name": "faTD"},
                 "mark": {"type": "line", "interpolate": "monotone", "color": "#7b7b7b", "strokeWidth": 1.6},
                 "encoding": {
                   "x": {"field": "x", "type": "quantitative", "scale": {"domain": [0, 0.9], "nice": false, "zero": false},
                         "axis": {"values": [0, 0.1, 0.2, 0.3, 0.4, 0.5, 0.6, 0.7, 0.8, 0.9], "tickCount": 20, "format": ".1f", "labelAngle": 270, "offset": 9, "tickSize": 7, "grid": true, "title": null, "labelFontSize": 18, "labelPadding": 6, "labelOverlap": false}},
                   "y": {"field": "y", "type": "quantitative", "scale": {"domain": [1, 4], "range": [222, 41], "nice": false, "zero": false},
                         "axis": {"values": [1, 2, 3, 4], "tickCount": 20, "labels": false, "offset": 9, "tickSize": 7, "grid": false, "title": null}},
                   "detail": {"field": "r", "type": "nominal"},
                   "strokeDash": {"field": "g", "type": "nominal"}
                 }},
                {"data": {"name": "means"}, "transform": [{"filter": "datum.m === 'FA' && datum.p === 'TD'"}],
                 "mark": {"type": "rule", "color": "#7b7b7b", "strokeWidth": 1.6},
                 "encoding": {"x": {"field": "x", "type": "quantitative"}, "y": {"field": "r", "type": "quantitative"}, "y2": {"field": "top"}, "strokeDash": {"field": "g", "type": "nominal"}}}
              ]
            }
          ]
        },
        {
          "bounds": "flush",
          "spacing": 21.5,
          "title": {"text": "Mean diffusivity [µm² · ms⁻¹]", "orient": "bottom", "anchor": "middle", "offset": 13, "fontSize": 17},
          "hconcat": [
            {
              "width": 186, "height": 245,
              "title": {"text": "FCD", "offset": 2},
              "layer": [
                {"data": {"name": "mdFCD"},
                 "mark": {"type": "line", "interpolate": "monotone", "color": "#7b7b7b", "strokeWidth": 1.6},
                 "encoding": {
                   "x": {"field": "x", "type": "quantitative", "scale": {"domain": [0.5, 1.2], "nice": false, "zero": false},
                         "axis": {"values": [0.5, 0.6, 0.7, 0.8, 0.9, 1.0, 1.1, 1.2], "tickCount": 20, "format": ".1f", "labelAngle": 270, "offset": 9, "tickSize": 7, "grid": true, "title": null, "labelFontSize": 18, "labelPadding": 6, "labelOverlap": false}},
                   "y": {"field": "y", "type": "quantitative", "scale": {"domain": [1, 4], "range": [217, 41], "nice": false, "zero": false},
                         "axis": {"values": [1, 2, 3, 4], "tickCount": 20, "format": "d", "offset": 9, "tickSize": 7, "grid": false, "labelFontSize": 18, "labelPadding": 3, "labelOverlap": false, "title": null}},
                   "detail": {"field": "r", "type": "nominal"},
                   "strokeDash": {"field": "g", "type": "nominal"}
                 }},
                {"data": {"name": "means"}, "transform": [{"filter": "datum.m === 'MD' && datum.p === 'FCD'"}],
                 "mark": {"type": "rule", "color": "#7b7b7b", "strokeWidth": 1.6},
                 "encoding": {"x": {"field": "x", "type": "quantitative"}, "y": {"field": "r", "type": "quantitative"}, "y2": {"field": "top"}, "strokeDash": {"field": "g", "type": "nominal"}}}
              ]
            },
            {
              "width": 186, "height": 245,
              "title": {"text": "TD", "offset": 2},
              "layer": [
                {"data": {"name": "mdTD"},
                 "mark": {"type": "line", "interpolate": "monotone", "color": "#7b7b7b", "strokeWidth": 1.6},
                 "encoding": {
                   "x": {"field": "x", "type": "quantitative", "scale": {"domain": [0.5, 1.2], "nice": false, "zero": false},
                         "axis": {"values": [0.5, 0.6, 0.7, 0.8, 0.9, 1.0, 1.1, 1.2], "tickCount": 20, "format": ".1f", "labelAngle": 270, "offset": 9, "tickSize": 7, "grid": true, "title": null, "labelFontSize": 18, "labelPadding": 6, "labelOverlap": false}},
                   "y": {"field": "y", "type": "quantitative", "scale": {"domain": [1, 4], "range": [217, 41], "nice": false, "zero": false},
                         "axis": {"values": [1, 2, 3, 4], "tickCount": 20, "labels": false, "offset": 9, "tickSize": 7, "grid": false, "title": null}},
                   "detail": {"field": "r", "type": "nominal"},
                   "strokeDash": {"field": "g", "type": "nominal"}
                 }},
                {"data": {"name": "means"}, "transform": [{"filter": "datum.m === 'MD' && datum.p === 'TD'"}],
                 "mark": {"type": "rule", "color": "#7b7b7b", "strokeWidth": 1.6},
                 "encoding": {"x": {"field": "x", "type": "quantitative"}, "y": {"field": "r", "type": "quantitative"}, "y2": {"field": "top"}, "strokeDash": {"field": "g", "type": "nominal"}}}
              ]
            }
          ]
        },
        {
          "bounds": "flush",
          "spacing": 21.5,
          "title": {"text": "Radial diffusivity [µm² · ms⁻¹]", "orient": "bottom", "anchor": "middle", "offset": 13, "fontSize": 17},
          "hconcat": [
            {
              "width": 186, "height": 245,
              "title": {"text": "FCD", "offset": 2},
              "layer": [
                {"data": {"name": "rdFCD"},
                 "mark": {"type": "line", "interpolate": "monotone", "color": "#7b7b7b", "strokeWidth": 1.6},
                 "encoding": {
                   "x": {"field": "x", "type": "quantitative", "scale": {"domain": [0.3, 1.0], "nice": false, "zero": false},
                         "axis": {"values": [0.3, 0.4, 0.5, 0.6, 0.7, 0.8, 0.9, 1.0], "tickCount": 20, "format": ".1f", "labelAngle": 270, "offset": 9, "tickSize": 7, "grid": true, "title": null, "labelFontSize": 18, "labelPadding": 6, "labelOverlap": false}},
                   "y": {"field": "y", "type": "quantitative", "scale": {"domain": [1, 4], "range": [217, 41], "nice": false, "zero": false},
                         "axis": {"values": [1, 2, 3, 4], "tickCount": 20, "format": "d", "offset": 9, "tickSize": 7, "grid": false, "labelFontSize": 18, "labelPadding": 3, "labelOverlap": false, "title": null}},
                   "detail": {"field": "r", "type": "nominal"},
                   "strokeDash": {"field": "g", "type": "nominal"}
                 }},
                {"data": {"name": "means"}, "transform": [{"filter": "datum.m === 'RD' && datum.p === 'FCD'"}],
                 "mark": {"type": "rule", "color": "#7b7b7b", "strokeWidth": 1.6},
                 "encoding": {"x": {"field": "x", "type": "quantitative"}, "y": {"field": "r", "type": "quantitative"}, "y2": {"field": "top"}, "strokeDash": {"field": "g", "type": "nominal"}}}
              ]
            },
            {
              "width": 186, "height": 245,
              "title": {"text": "TD", "offset": 2},
              "layer": [
                {"data": {"name": "rdTD"},
                 "mark": {"type": "line", "interpolate": "monotone", "color": "#7b7b7b", "strokeWidth": 1.6},
                 "encoding": {
                   "x": {"field": "x", "type": "quantitative", "scale": {"domain": [0.3, 1.0], "nice": false, "zero": false},
                         "axis": {"values": [0.3, 0.4, 0.5, 0.6, 0.7, 0.8, 0.9, 1.0], "tickCount": 20, "format": ".1f", "labelAngle": 270, "offset": 9, "tickSize": 7, "grid": true, "title": null, "labelFontSize": 18, "labelPadding": 6, "labelOverlap": false}},
                   "y": {"field": "y", "type": "quantitative", "scale": {"domain": [1, 4], "range": [217, 41], "nice": false, "zero": false},
                         "axis": {"values": [1, 2, 3, 4], "tickCount": 20, "labels": false, "offset": 9, "tickSize": 7, "grid": false, "title": null}},
                   "detail": {"field": "r", "type": "nominal"},
                   "strokeDash": {"field": "g", "type": "nominal"}
                 }},
                {"data": {"name": "means"}, "transform": [{"filter": "datum.m === 'RD' && datum.p === 'TD'"}],
                 "mark": {"type": "rule", "color": "#7b7b7b", "strokeWidth": 1.6},
                 "encoding": {"x": {"field": "x", "type": "quantitative"}, "y": {"field": "r", "type": "quantitative"}, "y2": {"field": "top"}, "strokeDash": {"field": "g", "type": "nominal"}}}
              ]
            }
          ]
        }
      ]
    }
  ]
}
